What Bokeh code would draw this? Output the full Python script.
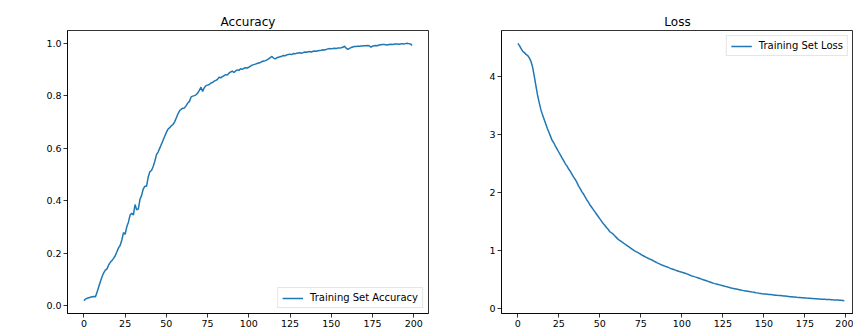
from bokeh.plotting import figure
from bokeh.layouts import row
from bokeh.models import (FixedTicker, Legend, LegendItem, Range1d,
                          ColumnDataSource, NumeralTickFormatter)
from bokeh.embed import file_html
from bokeh.resources import INLINE

epochs = list(range(200))

acc = [
    0.019, 0.025, 0.028, 0.030, 0.032, 0.034, 0.035, 0.034, 0.052, 0.072,
    0.092, 0.110, 0.125, 0.135, 0.140, 0.155, 0.165, 0.172, 0.180, 0.190,
    0.205, 0.220, 0.230, 0.250, 0.278, 0.272, 0.300, 0.318, 0.345, 0.352,
    0.345, 0.385, 0.365, 0.368, 0.405, 0.420, 0.445, 0.455, 0.455, 0.490,
    0.510, 0.515, 0.530, 0.550, 0.575, 0.585, 0.600, 0.615, 0.630, 0.645,
    0.660, 0.672, 0.678, 0.685, 0.690, 0.700, 0.715, 0.730, 0.742, 0.748,
    0.752, 0.753, 0.762, 0.772, 0.778, 0.795, 0.798, 0.800, 0.803, 0.810,
    0.820, 0.832, 0.816, 0.830, 0.838, 0.840, 0.842, 0.848, 0.850, 0.855,
    0.858, 0.862, 0.870, 0.868, 0.872, 0.876, 0.880, 0.878, 0.886, 0.890,
    0.893, 0.888, 0.894, 0.898, 0.896, 0.902, 0.900, 0.904, 0.906, 0.905,
    0.908, 0.912, 0.916, 0.918, 0.920, 0.922, 0.924, 0.926, 0.930, 0.932,
    0.933, 0.936, 0.940, 0.945, 0.949, 0.943, 0.940, 0.944, 0.946, 0.948,
    0.950, 0.953, 0.952, 0.955, 0.957, 0.958, 0.956, 0.960, 0.959, 0.961,
    0.962, 0.963, 0.961, 0.964, 0.966, 0.965, 0.967, 0.968, 0.966, 0.969,
    0.970, 0.969, 0.971, 0.972, 0.973, 0.975, 0.974, 0.976, 0.978, 0.979,
    0.978, 0.979, 0.980, 0.979, 0.981, 0.981, 0.982, 0.984, 0.988, 0.981,
    0.976, 0.980, 0.983, 0.985, 0.987, 0.987, 0.988, 0.988, 0.989, 0.989,
    0.990, 0.990, 0.991, 0.990, 0.985, 0.988, 0.990, 0.991, 0.990, 0.993,
    0.994, 0.995, 0.995, 0.994, 0.993, 0.995, 0.996, 0.995, 0.996, 0.997,
    0.997, 0.996, 0.997, 0.998, 0.997, 0.998, 0.999, 0.998, 0.997, 0.991,
]

loss = [
    4.58, 4.54, 4.49, 4.44, 4.42, 4.39, 4.37, 4.33, 4.27, 4.17,
    4.02, 3.85, 3.69, 3.56, 3.44, 3.35, 3.27, 3.19, 3.11, 3.04,
    2.97, 2.90, 2.86, 2.80, 2.75, 2.70, 2.65, 2.60, 2.55, 2.50,
    2.46, 2.41, 2.37, 2.32, 2.27, 2.23, 2.18, 2.12, 2.07, 2.02,
    1.98, 1.93, 1.88, 1.84, 1.79, 1.75, 1.71, 1.67, 1.63, 1.59,
    1.55, 1.51, 1.47, 1.44, 1.40, 1.37, 1.33, 1.31, 1.29, 1.26,
    1.23, 1.20, 1.18, 1.16, 1.14, 1.12, 1.10, 1.08, 1.06, 1.04,
    1.02, 1.00, 0.985, 0.970, 0.955, 0.935, 0.920, 0.905, 0.890, 0.875,
    0.862, 0.850, 0.835, 0.820, 0.805, 0.790, 0.777, 0.763, 0.752, 0.740,
    0.730, 0.720, 0.707, 0.695, 0.685, 0.675, 0.665, 0.655, 0.645, 0.635,
    0.628, 0.620, 0.610, 0.600, 0.590, 0.575, 0.565, 0.557, 0.548, 0.540,
    0.530, 0.520, 0.510, 0.500, 0.490, 0.480, 0.470, 0.460, 0.450, 0.440,
    0.432, 0.425, 0.418, 0.410, 0.402, 0.395, 0.388, 0.380, 0.372, 0.365,
    0.357, 0.351, 0.345, 0.339, 0.333, 0.327, 0.321, 0.315, 0.310, 0.305,
    0.300, 0.295, 0.290, 0.285, 0.281, 0.276, 0.272, 0.267, 0.263, 0.258,
    0.254, 0.251, 0.248, 0.245, 0.242, 0.239, 0.236, 0.233, 0.230, 0.228,
    0.225, 0.222, 0.219, 0.216, 0.213, 0.210, 0.207, 0.204, 0.201, 0.199,
    0.196, 0.194, 0.192, 0.189, 0.187, 0.185, 0.182, 0.180, 0.178, 0.175,
    0.173, 0.171, 0.169, 0.167, 0.166, 0.164, 0.162, 0.161, 0.159, 0.157,
    0.156, 0.154, 0.152, 0.151, 0.149, 0.147, 0.145, 0.143, 0.141, 0.138,
]

x_ticks = [0, 25, 50, 75, 100, 125, 150, 175, 200]
acc_ticks = [0.0, 0.2, 0.4, 0.6, 0.8, 1.0]
loss_ticks = [0, 1, 2, 3, 4]

acc_label = "Training Set Accuracy"
loss_label = "Training Set Loss"

LINE = "#1f77b4"
FONT = "DejaVu Sans"


def pad_range(vals, frac=0.05):
    lo, hi = min(vals), max(vals)
    d = (hi - lo) * frac
    return lo - d, hi + d


def style(p, title):
    p.title.text = title
    p.title.align = "center"
    p.title.text_font = FONT
    p.title.text_font_size = "12px"
    p.title.text_font_style = "normal"
    p.title.text_color = "#000000"
    p.title.standoff = 4
    p.outline_line_color = "#000000"
    p.outline_line_width = 0.8
    p.outline_line_alpha = 1.0
    p.xgrid.visible = False
    p.ygrid.visible = False
    p.background_fill_color = "white"
    p.border_fill_color = "white"
    for ax in (p.xaxis[0], p.yaxis[0]):
        ax.axis_line_color = "#000000"
        ax.axis_line_width = 0.8
        ax.major_tick_line_color = "#000000"
        ax.major_tick_line_width = 0.8
        ax.major_tick_out = 4
        ax.major_tick_in = 0
        ax.minor_tick_line_color = None
        ax.major_label_text_font = FONT
        ax.major_label_text_font_size = "9.5px"
        ax.major_label_text_color = "#000000"
        ax.major_label_standoff = 2


def make_legend(p, label, r, loc):
    leg = Legend(items=[LegendItem(label=label, renderers=[r])], location=loc)
    leg.label_text_font = FONT
    leg.label_text_font_size = "10px"
    leg.label_text_color = "#000000"
    leg.label_height = 10
    leg.glyph_height = 10
    leg.glyph_width = 21
    leg.label_standoff = 7
    leg.padding = 4
    leg.spacing = 0
    leg.margin = 5
    leg.border_line_color = "#cccccc"
    leg.border_line_width = 1
    leg.background_fill_alpha = 0.8
    p.add_layout(leg)


src = ColumnDataSource(dict(epoch=epochs, acc=acc, loss=loss))

x0, x1 = pad_range(epochs)
ya0, ya1 = pad_range(acc)
yl0, yl1 = pad_range(loss)

p1 = figure(width=470, height=329, x_range=Range1d(x0, x1),
            y_range=Range1d(ya0, ya1), output_backend="svg",
            toolbar_location=None, min_border_left=67, min_border_right=42,
            min_border_top=30, min_border_bottom=16)
r1 = p1.line("epoch", "acc", source=src, line_color=LINE, line_width=1.5)
style(p1, "Accuracy")
p1.xaxis.ticker = FixedTicker(ticks=x_ticks)
p1.yaxis.ticker = FixedTicker(ticks=acc_ticks)
p1.yaxis.formatter = NumeralTickFormatter(format="0.0")
make_legend(p1, acc_label, r1, "bottom_right")

p2 = figure(width=383, height=329, x_range=Range1d(x0, 204.6),
            y_range=Range1d(yl0, yl1), output_backend="svg",
            toolbar_location=None, min_border_left=31, min_border_right=0,
            min_border_top=30, min_border_bottom=16)
r2 = p2.line("epoch", "loss", source=src, line_color=LINE, line_width=1.5)
style(p2, "Loss")
p2.xaxis.ticker = FixedTicker(ticks=x_ticks)
p2.yaxis.ticker = FixedTicker(ticks=loss_ticks)
p2.yaxis.formatter = NumeralTickFormatter(format="0")
make_legend(p2, loss_label, r2, "top_right")

layout = row(p1, p2)
open("out.html", "w").write(file_html(layout, INLINE))
